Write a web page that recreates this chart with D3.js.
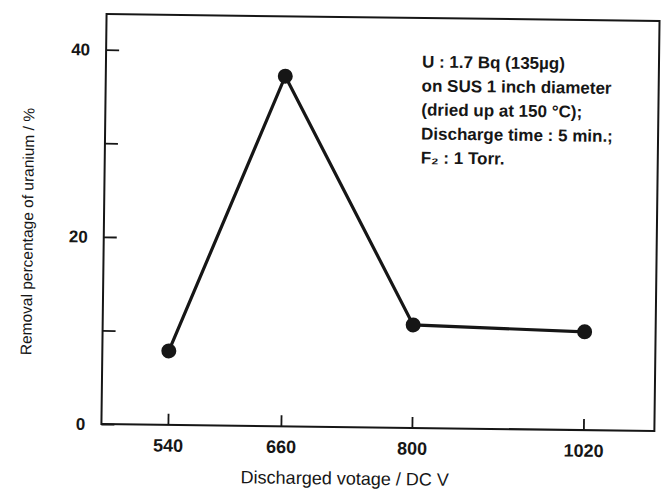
<!DOCTYPE html>
<html>
<head>
<meta charset="utf-8">
<script src="https://cdn.jsdelivr.net/npm/d3@7"></script>
<style>
  html, body { margin: 0; padding: 0; background: #fff; }
  svg { display: block; }
  text { font-family: "Liberation Sans", Arial, sans-serif; fill: #161616; }
</style>
</head>
<body>
<svg id="chart" width="661" height="491"></svg>
<script>
// ---- data ----
const voltages = [540, 660, 800, 1020];
const removal = [7.9, 37.4, 11.0, 10.5];
const yTickValues = [0, 10, 20, 30, 40];
const yTickLabels = ["0", "", "20", "", "40"];
const xTickLabels = ["540", "660", "800", "1020"];
const notes = [
  "U : 1.7 Bq (135\u00B5g)",
  "on SUS 1 inch diameter",
  "(dried up at 150 \u00B0C);",
  "Discharge time : 5 min.;",
  "F\u2082 : 1 Torr."
];
const xTitle = "Discharged votage / DC V";
const yTitle = "Removal percentage of uranium / %";

// ---- layout ----
const L = 104, R = 657, T = 17.5, B = 427.5;
const ink = "#161616";
const font = "Liberation Sans, Arial, sans-serif";

const svg = d3.select("#chart");
const g = svg.append("g").attr("transform", "rotate(0.72, 380, 220)");

const x = d3.scaleLinear().domain(voltages).range([170.5, 283.5, 414.5, 586]);
const y = d3.scaleLinear().domain([0, 43.8]).range([B, T]);

// frame
g.append("rect")
  .attr("x", L).attr("y", T)
  .attr("width", R - L).attr("height", B - T)
  .attr("fill", "none").attr("stroke", ink).attr("stroke-width", 2);

// y axis
const yAxis = d3.axisLeft(y)
  .tickValues(yTickValues)
  .tickSizeInner(-13).tickSizeOuter(0)
  .tickPadding(16)
  .tickFormat((d, i) => yTickLabels[i]);
const ya = g.append("g").attr("transform", `translate(${L},0)`).call(yAxis);
ya.select(".domain").remove();
ya.selectAll(".tick line").attr("stroke", ink).attr("stroke-width", 1.8);
ya.selectAll(".tick text")
  .attr("font-size", 17).attr("font-weight", "bold").attr("fill", ink)
  .attr("font-family", font);

// x axis
const xAxis = d3.axisBottom(x)
  .tickValues(voltages)
  .tickSizeInner(-11).tickSizeOuter(0)
  .tickPadding(14)
  .tickFormat((d, i) => xTickLabels[i]);
const xa = g.append("g").attr("transform", `translate(0,${B})`).call(xAxis);
xa.select(".domain").remove();
xa.selectAll(".tick line").attr("stroke", ink).attr("stroke-width", 1.8);
xa.selectAll(".tick text")
  .attr("font-size", 18).attr("font-weight", "bold").attr("fill", ink)
  .attr("font-family", font);

// data line
const line = d3.line().x((d, i) => x(voltages[i])).y(d => y(d));
g.append("path")
  .datum(removal)
  .attr("d", line)
  .attr("fill", "none").attr("stroke", ink).attr("stroke-width", 3.2)
  .attr("stroke-linejoin", "miter");

g.selectAll("circle.pt")
  .data(removal)
  .enter().append("circle")
  .attr("class", "pt")
  .attr("cx", (d, i) => x(voltages[i]))
  .attr("cy", d => y(d))
  .attr("r", 7.5)
  .attr("fill", ink);

// annotation
g.append("g").selectAll("text")
  .data(notes)
  .enter().append("text")
  .attr("x", 420)
  .attr("y", (d, i) => 67 + i * 24)
  .attr("font-size", 17).attr("font-weight", "bold")
  .text(d => d);

// axis titles
g.append("text")
  .attr("x", 348).attr("y", 485)
  .attr("text-anchor", "middle")
  .attr("font-size", 18)
  .text(xTitle);

g.append("text")
  .attr("transform", "translate(33,236) rotate(-90)")
  .attr("text-anchor", "middle")
  .attr("font-size", 15.5)
  .text(yTitle);
</script>
</body>
</html>
